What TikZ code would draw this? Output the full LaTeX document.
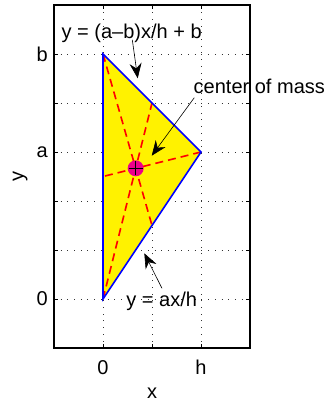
\documentclass[tikz,border=0pt]{standalone}
\usepackage{fontspec}
\setmainfont{Liberation Sans}
\usetikzlibrary{arrows.meta}
\begin{document}
\begin{tikzpicture}[x=49pt,y=49pt,
  lbl/.style={font=\fontsize{20}{24}\selectfont, inner sep=0pt},
  gridline/.style={line width=0.7pt, dash pattern=on 0.7pt off 6pt, black!80},
  edge/.style={blue, line width=1.6pt},
  median/.style={red, line width=1.6pt, dash pattern=on 8pt off 5pt},
  note/.style={line width=0.6pt, -{Stealth[length=15pt,width=12pt,inset=5pt]}},
  axisbox/.style={line width=1.3pt},
  tickmark/.style={line width=0.8pt}]
\useasboundingbox (-2.102,-2.102) rectangle (4.531,6.102);
% grid
\foreach \xx in {0,1,2} \draw[gridline] (\xx,-1) -- (\xx,6);
\foreach \yy in {0,1,2,3,4,5} \draw[gridline] (-1,\yy) -- (3,\yy);
% triangle
\coordinate (P0) at (0,0);
\coordinate (PB) at (0,5);
\coordinate (PA) at (2,3);
\coordinate (M1) at (1,1.5);
\coordinate (M2) at (1,4);
\coordinate (M3) at (0,2.5);
\coordinate (C) at (2/3,8/3);
\fill[yellow] (P0) -- (PB) -- (PA) -- cycle;
\draw[median] (PB) -- (M1);
\draw[median] (P0) -- (M2);
\draw[median] (PA) -- (M3);
\draw[edge] (P0) -- (PB) -- (PA) -- cycle;
% centroid
\fill[magenta] (C) circle (8pt);
\draw[line width=0.8pt] ([xshift=-7pt]C) -- ([xshift=7pt]C) ([yshift=-7pt]C) -- ([yshift=7pt]C);
% axes box and ticks
\draw[axisbox] (-1,-1) rectangle (3,6);
\foreach \xx in {0,1,2} {\draw[tickmark] (\xx,-1) -- ++(0,4pt); \draw[tickmark] (\xx,6) -- ++(0,-4pt);}
\foreach \yy in {0,1,2,3,4,5} {\draw[tickmark] (-1,\yy) -- ++(4pt,0); \draw[tickmark] (3,\yy) -- ++(-4pt,0);}
% tick labels
\node[lbl, anchor=east] (tb) at ([xshift=-6pt]-1,5) {b};
\node[lbl, anchor=east] (ta) at ([xshift=-6pt]-1,3) {a};
\node[lbl, anchor=east] (t0) at ([xshift=-6pt]-1,0) {0};
\node[lbl] (x0) at (0,-1.40) {0};
\node[lbl] (xh) at (2,-1.40) {h};
\node[lbl] (xl) at (1,-1.93) {x};
\node[lbl, rotate=90] (yl) at (-1.69,2.51) {y};
% annotations
\node[lbl] (n1) at (0.586,5.43) {y = (a–b)x/h + b};
\coordinate (h1) at (0.708,4.504);
\draw[note] (0.598,5.29) -- (h1);
\node[lbl] (n2) at (3.19,4.33) {center of mass};
\coordinate (h2) at (0.994,2.924);
\draw[note] (1.863,4.108) -- (h2);
\node[lbl] (n3) at (1.198,-0.04) {y = ax/h};
\coordinate (h3) at (0.843,0.933);
\draw[note] (1.204,0.218) -- (h3);
\end{tikzpicture}
\end{document}
